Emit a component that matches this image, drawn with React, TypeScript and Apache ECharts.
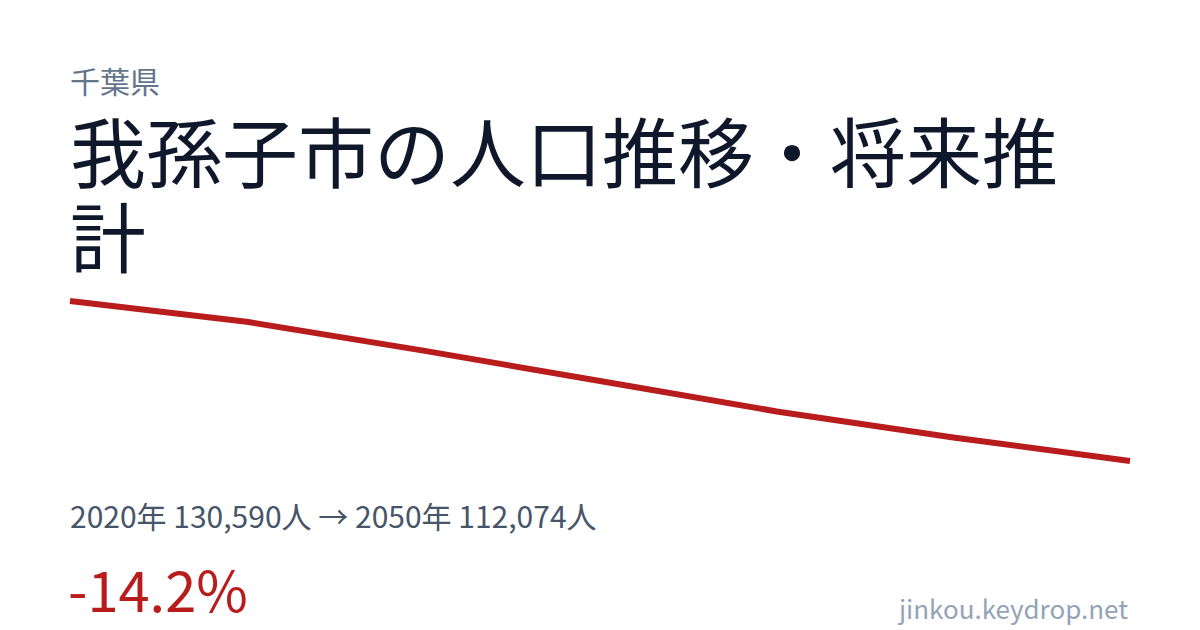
import React, { useEffect, useRef } from "react";
import * as echarts from "echarts";

const years = ["2020", "2025", "2030", "2035", "2040", "2045", "2050"];
const population = [130590, 128190, 124850, 121330, 117810, 114800, 112074];

const prefecture = "千葉県";
const titleText = "我孫子市の人口推移・将来推計";
const summaryText = "2020年 130,590人 → 2050年 112,074人";
const changeText = "-14.2%";
const siteText = "jinkou.keydrop.net";

const FONT = '"Noto Sans CJK JP", "Noto Sans", sans-serif';

export default function App() {
  const ref = useRef<HTMLDivElement>(null);

  useEffect(() => {
    if (!ref.current) return;
    const chart = echarts.init(ref.current, null, { renderer: "svg" });
    const minV = Math.min(...population);
    const maxV = Math.max(...population);
    chart.setOption({
      animation: false,
      backgroundColor: "#ffffff",
      grid: { left: 70, right: 70, top: 301, bottom: 169 },
      xAxis: {
        type: "category",
        data: years,
        boundaryGap: false,
        show: false,
      },
      yAxis: {
        type: "value",
        min: minV,
        max: maxV,
        show: false,
      },
      series: [
        {
          type: "line",
          data: population,
          symbol: "none",
          smooth: false,
          lineStyle: { color: "#b91c1c", width: 6, cap: "butt", join: "round" },
          itemStyle: { color: "#b91c1c" },
        },
      ],
      graphic: [
        {
          type: "text",
          left: 70,
          top: 65,
          style: {
            text: prefecture,
            font: `400 30px ${FONT}`,
            fill: "#64748b",
            lineHeight: 30,
          },
        },
        {
          type: "text",
          x: 70,
          y: 106.5,
          style: {
            text: titleText,
            font: `400 76px ${FONT}`,
            fill: "#0f172a",
            width: 1062,
            overflow: "break",
            lineHeight: 85,
            verticalAlign: "top",
            align: "left",
          },
        },
        {
          type: "text",
          x: 70,
          y: 515,
          style: {
            text: summaryText,
            font: `400 30px ${FONT}`,
            fill: "#475569",
            verticalAlign: "middle",
            align: "left",
          },
        },
        {
          type: "text",
          x: 68,
          y: 587,
          style: {
            text: changeText,
            font: `400 56px ${FONT}`,
            fill: "#b91c1c",
            verticalAlign: "middle",
            align: "left",
          },
        },
        {
          type: "text",
          x: 1128,
          y: 607,
          style: {
            text: siteText,
            font: `400 26px ${FONT}`,
            fill: "#94a3b8",
            verticalAlign: "middle",
            align: "right",
          },
        },
      ],
    });
    return () => chart.dispose();
  }, []);

  return (
    <div
      ref={ref}
      style={{ position: "fixed", left: 0, top: 0, width: 1200, height: 630, background: "#fff" }}
    />
  );
}
